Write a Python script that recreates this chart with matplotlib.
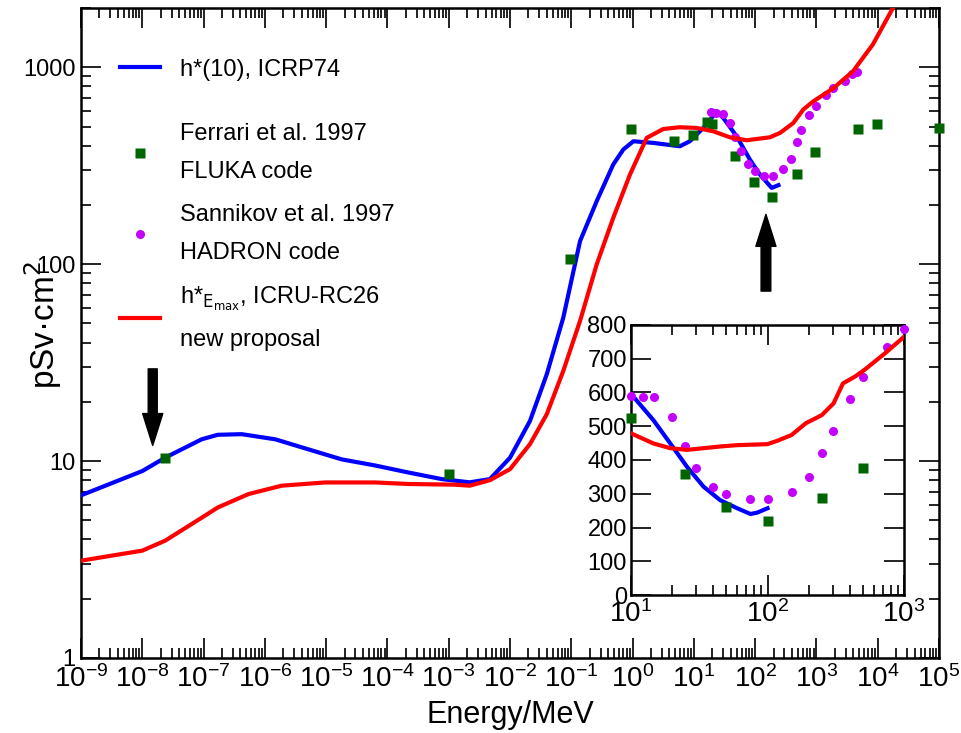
import numpy as np
import matplotlib
matplotlib.use('Agg')
import matplotlib.pyplot as plt
from matplotlib.lines import Line2D
from matplotlib.ticker import LogLocator, FixedLocator, FuncFormatter, NullFormatter, NullLocator

plt.rcParams['font.family'] = ['Liberation Sans', 'DejaVu Sans']
plt.rcParams['mathtext.fontset'] = 'custom'
plt.rcParams['mathtext.rm'] = 'Liberation Sans Narrow'
plt.rcParams['mathtext.it'] = 'Liberation Sans Narrow'
plt.rcParams['axes.unicode_minus'] = False

# main panel, energies in MeV, values in pSv cm^2
blue_E = [1e-9, 1e-8, 2.35e-8, 9.3e-8, 1.7e-7, 4.2e-7, 1.48e-6, 5e-6, 1.8e-5, 6.3e-5,
          2.2e-4, 7.7e-4, 2.2e-3, 4.7e-3, 1e-2, 0.0212, 0.0398, 0.074, 0.139, 0.26,
          0.484, 0.705, 1.03, 2.17, 5.9, 8.6, 16.2, 23.5, 30.2, 50, 82, 120, 186, 240]
blue_v = [6.7, 8.9, 10.4, 12.9, 13.6, 13.7, 12.9, 11.5, 10.2, 9.5,
          8.75, 8.1, 7.8, 8.1, 10.4, 16.0, 27.6, 53.5, 131, 209,
          321, 382, 421, 413, 397, 421, 512, 598, 553, 446, 340, 285, 244, 252]

red_E = [1e-9, 1e-8, 2.35e-8, 6.4e-8, 1.72e-7, 5.4e-7, 1.88e-6, 9.6e-6, 6.3e-5, 2.2e-4,
         1.26e-3, 2.2e-3, 4.7e-3, 1e-2, 0.0212, 0.0398, 0.074, 0.139, 0.26, 0.484,
         0.906, 1.7, 3.17, 5.9, 11.1, 20.7, 38.8, 72.7, 174, 254, 419, 610, 887, 1880,
         3940, 8350, 18500]
red_v = [3.12, 3.51, 3.94, 4.79, 5.82, 6.8, 7.5, 7.79, 7.79, 7.65,
         7.59, 7.5, 8.0, 9.1, 12.2, 17.3, 28.7, 51.5, 99.8, 172,
         285, 438, 486, 496, 492, 473, 441, 426, 441, 464, 521, 610, 671, 782,
         953, 1307, 2050]

purple_E = [19.0, 23.0, 29.5, 38.8, 47.4, 58, 77.3, 99.3, 139, 193, 281, 380, 476, 553,
            764, 982, 1430, 1860, 2920, 3750, 4530]
purple_v = [593, 586, 582, 521, 441, 375, 321, 299, 282, 282, 303, 344, 416, 479,
            570, 634, 721, 785, 849, 920, 946]

green_E = [2.35e-8, 1e-3, 0.096, 0.94, 4.8, 9.6, 16.2, 19.5, 46.7, 95.5, 188, 475, 955,
           4700, 9600, 1e5]
green_v = [10.4, 8.62, 106, 486, 421, 455, 530, 518, 355, 261, 219, 287, 373,
           486, 518, 492]

# inset panel (linear y)
ins_blue_E = [10, 14.6, 19.4, 25.7, 34, 45, 60, 75, 84, 100]
ins_blue_v = [596, 518, 449, 380, 321, 281, 257, 240, 244, 257]
ins_red_E = [10, 14.6, 19.4, 25.7, 34, 45, 60, 100, 118, 150, 191, 250, 305, 357, 437,
             513, 725, 1000]
ins_red_v = [479, 449, 435, 430, 435, 440, 444, 447, 457, 474, 509, 533, 568, 627, 647,
             667, 716, 765]
ins_purple_E = [10, 12.3, 14.8, 20, 25, 30, 40, 50, 75, 100, 150, 200, 250, 300, 400,
                500, 750, 1000]
ins_purple_v = [590, 586, 586, 527, 441, 375, 319, 300, 284, 284, 306, 349, 420, 487,
                580, 645, 734, 788]
ins_green_E = [10, 25, 50, 100, 250, 500]
ins_green_v = [525, 358, 261, 219, 288, 375]

BLUE = '#0000ff'
RED = '#ff0000'
GREEN = '#006400'
PURPLE = '#c400ff'

fig = plt.figure(figsize=(9.61, 7.33), dpi=100)
ax = fig.add_axes([81/961, 75/733, 858/961, 650/733])

ax.plot(blue_E, blue_v, color=BLUE, lw=3, zorder=3)
ax.plot(green_E, green_v, 's', color=GREEN, ms=6.5, mec='none', zorder=4, clip_on=False)
ax.plot(purple_E, purple_v, 'o', color=PURPLE, ms=6.5, mec='none', zorder=4)
ax.plot(red_E, red_v, color=RED, lw=3, zorder=5)

ax.set_xscale('log')
ax.set_yscale('log')
ax.set_xlim(1e-9, 1e5)
ax.set_ylim(1, 2000)

ax.xaxis.set_major_locator(LogLocator(base=10, numticks=30))
ax.xaxis.set_minor_locator(LogLocator(base=10, subs=np.arange(2, 10), numticks=200))
ax.xaxis.set_minor_formatter(NullFormatter())
ax.yaxis.set_major_locator(FixedLocator([1, 10, 100, 1000]))
ax.yaxis.set_major_formatter(FuncFormatter(lambda v, p: '%d' % v))
ax.yaxis.set_minor_locator(LogLocator(base=10, subs=np.arange(2, 10), numticks=200))
ax.yaxis.set_minor_formatter(NullFormatter())

ax.tick_params(which='both', direction='in', top=True, right=True, width=1.4, color='#222222')
ax.tick_params(which='major', length=14.5)
ax.tick_params(which='minor', length=7.5)
ax.tick_params(axis='x', which='major', labelsize=20, pad=5)
ax.tick_params(axis='y', which='major', labelsize=17, pad=4)
for s in ax.spines.values():
    s.set_linewidth(1.8)

ax.set_xlabel('Energy/MeV', fontsize=22, labelpad=5)
ax.set_ylabel('pSv·cm$^2$', fontsize=24)
ax.yaxis.set_label_coords(-0.02, 0.512)

# arrows
ax.annotate('', xy=(1.48e-8, 12.0), xytext=(1.48e-8, 29.4),
            arrowprops=dict(arrowstyle='simple,head_width=1.45,head_length=2.3,tail_width=0.65',
                            color='k', shrinkA=0, shrinkB=0, mutation_scale=10))
ax.annotate('', xy=(150, 179), xytext=(150, 73),
            arrowprops=dict(arrowstyle='simple,head_width=1.45,head_length=2.3,tail_width=0.7',
                            color='k', shrinkA=0, shrinkB=0, mutation_scale=10))

# legend
h_blue = Line2D([], [], color=BLUE, lw=3)
h_green = Line2D([], [], ls='none', marker='s', color=GREEN, ms=6.5, mec='none')
h_purple = Line2D([], [], ls='none', marker='o', color=PURPLE, ms=6.5, mec='none')
h_red = Line2D([], [], color=RED, lw=3)

leg1 = ax.legend([h_blue], ['h*(10), ICRP74'], loc='center left',
                 bbox_to_anchor=(0.0455, 0.905), frameon=False, fontsize=17,
                 handlelength=1.7, handletextpad=0.85, borderpad=0, borderaxespad=0)
ax.add_artist(leg1)
leg2 = ax.legend([h_green, h_purple, h_red],
                 ['Ferrari et al. 1997\nFLUKA code',
                  'Sannikov et al. 1997\nHADRON code',
                  'h*$_{\\mathrm{E}_{\\mathrm{max}}}$, ICRU-RC26\nnew proposal'],
                 loc='center left', bbox_to_anchor=(0.0455, 0.648), frameon=False,
                 fontsize=17, handlelength=1.7, handletextpad=0.85, borderpad=0,
                 borderaxespad=0, labelspacing=0.9)
for t in leg2.get_texts():
    t.set_linespacing(1.93)

# inset
ins = fig.add_axes([631/961, 138/733, 273/961, 270/733])
ins.plot(ins_blue_E, ins_blue_v, color=BLUE, lw=3, zorder=3)
ins.plot(ins_green_E, ins_green_v, 's', color=GREEN, ms=6.5, mec='none', zorder=4, clip_on=False)
ins.plot(ins_purple_E, ins_purple_v, 'o', color=PURPLE, ms=6.5, mec='none', zorder=4, clip_on=False)
ins.plot(ins_red_E, ins_red_v, color=RED, lw=3, zorder=5)
ins.set_xscale('log')
ins.set_xlim(10, 1000)
ins.set_ylim(0, 800)
ins.xaxis.set_major_locator(LogLocator(base=10, numticks=10))
ins.xaxis.set_minor_locator(LogLocator(base=10, subs=np.arange(2, 10), numticks=50))
ins.xaxis.set_minor_formatter(NullFormatter())
ins.yaxis.set_major_locator(FixedLocator(np.arange(0, 801, 100)))
ins.yaxis.set_minor_locator(NullLocator())
ins.tick_params(which='both', direction='in', top=True, right=True, width=1.4, color='#222222')
ins.tick_params(which='major', length=14.5)
ins.tick_params(which='minor', length=7.5)
ins.tick_params(axis='x', which='major', labelsize=20, pad=4)
ins.tick_params(axis='y', which='major', labelsize=17, pad=3)
for s in ins.spines.values():
    s.set_linewidth(1.8)

fig.savefig('out.png', dpi=100)
